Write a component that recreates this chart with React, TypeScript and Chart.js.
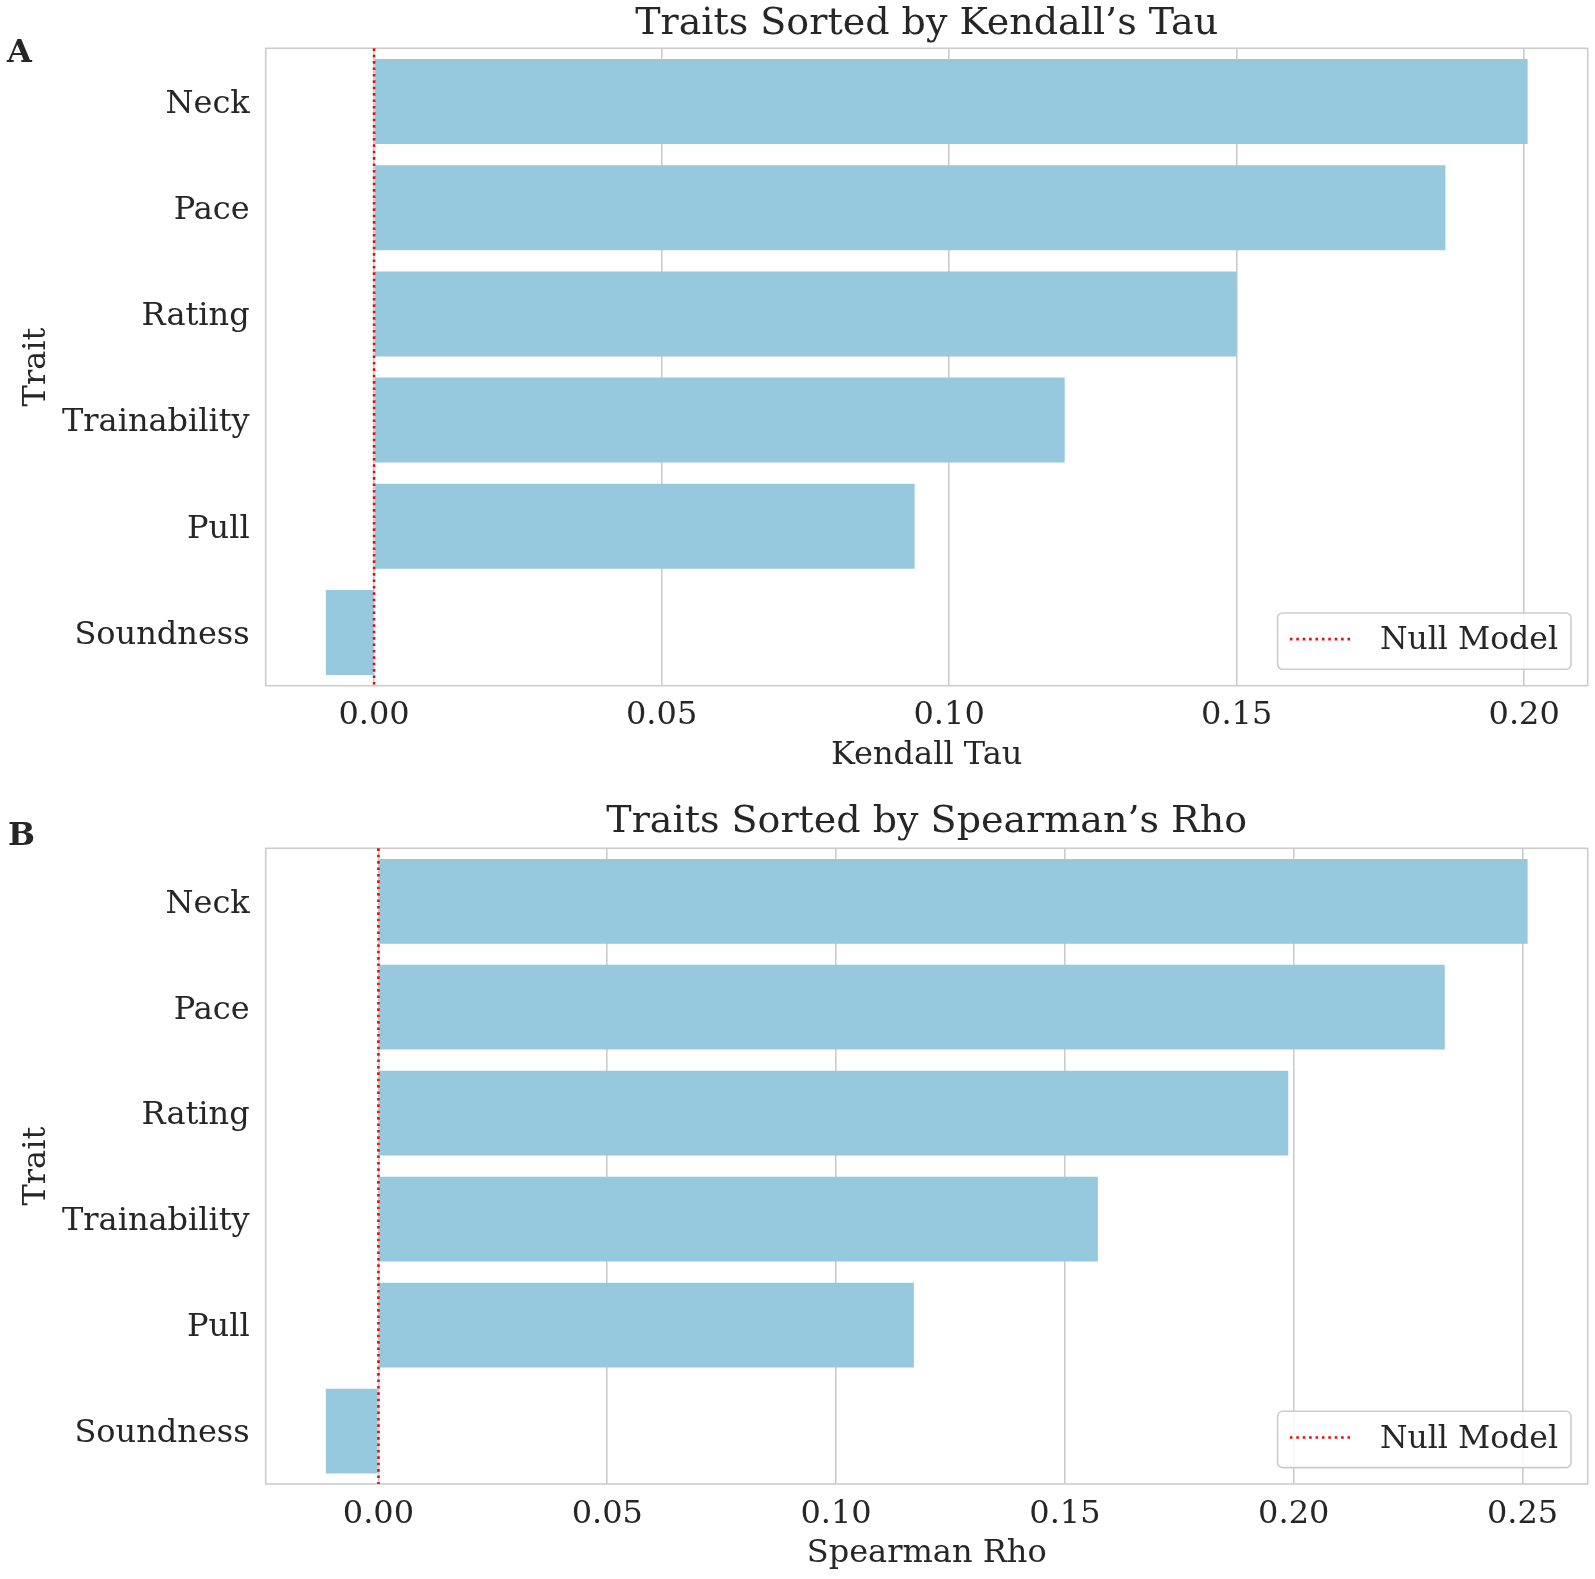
import React, { useEffect, useRef } from 'react';
import { Chart, registerables } from 'chart.js';

Chart.register(...registerables);

// ---------------- data ----------------
const traits = ['Neck', 'Pace', 'Rating', 'Trainability', 'Pull', 'Soundness'];
const kendallTau = [0.2006, 0.1863, 0.15, 0.1201, 0.094, -0.0084];
const spearmanRho = [0.2511, 0.233, 0.1988, 0.1572, 0.117, -0.0115];
const kendallTicks = [0, 0.05, 0.1, 0.15, 0.2];
const spearmanTicks = [0, 0.05, 0.1, 0.15, 0.2, 0.25];
const nullModelValue = 0;
const nullModelLabel = 'Null Model';
const panelLabels = ['A', 'B'];
const chartTitles = ['Traits Sorted by Kendall\u2019s Tau', 'Traits Sorted by Spearman\u2019s Rho'];
const xAxisTitles = ['Kendall Tau', 'Spearman Rho'];
const yAxisTitle = 'Trait';

// ---------------- style ----------------
const FONT = "'DejaVu Serif', serif";
const TEXT = '#262626';
const GRID = '#cccccc';
const BAR = '#96c8de';
const NULL_COLOR = '#e01010';
const FS = 32;
const LEG_FS = 31.5;
const TITLE_FS = 38;

type Lay = {
  canvasH: number;
  titlePadTop: number;
  titlePadBottom: number;
  xAxisH: number;
  tickPad: number;
  xTitlePadBottom: number;
  panelX: number;
  panelBaseline: number;
};

function makeChart(
  canvas: HTMLCanvasElement,
  values: number[],
  ticks: number[],
  title: string,
  xTitle: string,
  panel: string,
  lay: Lay
) {
  const lo = Math.min(0, ...values);
  const hi = Math.max(0, ...values);
  const m = (hi - lo) * 0.05;

  const framePlugin = {
    id: 'frame',
    beforeDatasetsDraw(chart: any) {
      const { ctx, chartArea: a } = chart;
      ctx.save();
      ctx.strokeStyle = GRID;
      ctx.lineWidth = 1.6;
      ctx.strokeRect(a.left, a.top, a.right - a.left, a.bottom - a.top);
      ctx.restore();
    },
  };

  const nullPlugin = {
    id: 'nullModel',
    afterDatasetsDraw(chart: any) {
      const { ctx, chartArea: a } = chart;
      const x = chart.scales.x.getPixelForValue(nullModelValue);
      ctx.save();
      ctx.strokeStyle = NULL_COLOR;
      ctx.lineWidth = 2.6;
      ctx.setLineDash([2.6, 3.8]);
      ctx.beginPath();
      ctx.moveTo(x, a.top);
      ctx.lineTo(x, a.bottom);
      ctx.stroke();
      ctx.restore();
    },
    afterDraw(chart: any) {
      const { ctx, chartArea: a } = chart;
      ctx.save();
      ctx.font = `${LEG_FS}px ${FONT}`;
      const tw = ctx.measureText(nullModelLabel).width;
      const w = 102.3 + tw + 13;
      const h = 56.3;
      const right = a.right - 16.7;
      const bottom = a.bottom - 16.4;
      const left = right - w;
      const top = bottom - h;
      ctx.beginPath();
      (ctx as any).roundRect(left, top, w, h, 5);
      ctx.fillStyle = 'rgba(255,255,255,0.85)';
      ctx.fill();
      ctx.strokeStyle = GRID;
      ctx.lineWidth = 1.6;
      ctx.stroke();
      const cy = top + h / 2;
      ctx.strokeStyle = NULL_COLOR;
      ctx.lineWidth = 2.6;
      ctx.setLineDash([2.6, 3.8]);
      ctx.beginPath();
      ctx.moveTo(left + 12.3, cy - 2);
      ctx.lineTo(left + 76.3, cy - 2);
      ctx.stroke();
      ctx.setLineDash([]);
      ctx.fillStyle = TEXT;
      ctx.textBaseline = 'middle';
      ctx.textAlign = 'left';
      ctx.fillText(nullModelLabel, left + 102.3, cy);
      // panel letter
      ctx.font = `bold 32px ${FONT}`;
      ctx.textBaseline = 'alphabetic';
      ctx.fillText(panel, lay.panelX, lay.panelBaseline);
      ctx.restore();
    },
  };

  return new Chart(canvas, {
    type: 'bar',
    data: {
      labels: traits,
      datasets: [
        {
          data: values,
          backgroundColor: BAR,
          borderWidth: 0,
          barPercentage: 0.8,
          categoryPercentage: 1,
        },
      ],
    },
    options: {
      indexAxis: 'y',
      animation: false,
      responsive: false,
      devicePixelRatio: 1,
      layout: { padding: { top: 0, left: 0, right: 7.3, bottom: 0 } },
      plugins: {
        legend: { display: false },
        tooltip: { enabled: false },
        title: {
          display: true,
          text: title,
          fullSize: false,
          color: TEXT,
          font: { family: FONT, size: TITLE_FS, weight: 'normal', lineHeight: 1.2 },
          padding: { top: lay.titlePadTop, bottom: lay.titlePadBottom },
        },
      },
      scales: {
        x: {
          type: 'linear',
          min: lo - m,
          max: hi + m,
          grid: { color: GRID, lineWidth: 1.6, drawTicks: false },
          border: { display: false },
          ticks: {
            padding: lay.tickPad,
            color: TEXT,
            font: { family: FONT, size: FS, lineHeight: 1.2 },
            autoSkip: false,
            maxRotation: 0,
            callback: (v: any) => Number(v).toFixed(2),
          },
          title: {
            display: true,
            text: xTitle,
            color: TEXT,
            font: { family: FONT, size: FS, lineHeight: 1.2 },
            padding: { top: 0, bottom: lay.xTitlePadBottom },
          },
          afterBuildTicks: (s: any) => {
            s.ticks = ticks.map((v) => ({ value: v }));
          },
          afterFit: (s: any) => {
            s.height = lay.xAxisH;
          },
        },
        y: {
          type: 'category',
          grid: { display: false, drawTicks: false },
          border: { display: false },
          ticks: {
            padding: 16,
            labelOffset: 3,
            color: TEXT,
            autoSkip: false,
            font: { family: FONT, size: FS, lineHeight: 1.2 },
          },
          title: {
            display: true,
            text: yAxisTitle,
            color: TEXT,
            font: { family: FONT, size: FS, lineHeight: 1.2 },
            padding: { top: 17.5, bottom: 0 },
          },
          afterFit: (s: any) => {
            s.width = 265.7;
          },
        },
      },
    } as any,
    plugins: [framePlugin, nullPlugin],
  });
}

const lay1: Lay = {
  canvasH: 790,
  titlePadTop: 1.4,
  titlePadBottom: 1.3,
  xAxisH: 104.3,
  tickPad: 11.1,
  xTitlePadBottom: 14.8,
  panelX: 7,
  panelBaseline: 61.7,
};
const lay2: Lay = {
  canvasH: 789,
  titlePadTop: 9.7,
  titlePadBottom: 3.0,
  xAxisH: 95,
  tickPad: 11.8,
  xTitlePadBottom: 5.8,
  panelX: 8,
  panelBaseline: 55,
};

export default function App() {
  const c1 = useRef<HTMLCanvasElement>(null);
  const c2 = useRef<HTMLCanvasElement>(null);

  useEffect(() => {
    const a = makeChart(c1.current!, kendallTau, kendallTicks, chartTitles[0], xAxisTitles[0], panelLabels[0], lay1);
    const b = makeChart(c2.current!, spearmanRho, spearmanTicks, chartTitles[1], xAxisTitles[1], panelLabels[1], lay2);
    return () => {
      a.destroy();
      b.destroy();
    };
  }, []);

  return (
    <div style={{ position: 'absolute', left: 0, top: 0, width: 1595, height: 1579, background: '#ffffff' }}>
      <canvas
        ref={c1}
        width={1595}
        height={lay1.canvasH}
        style={{ position: 'absolute', left: 0, top: 0, width: 1595, height: lay1.canvasH }}
      />
      <canvas
        ref={c2}
        width={1595}
        height={lay2.canvasH}
        style={{ position: 'absolute', left: 0, top: lay1.canvasH, width: 1595, height: lay2.canvasH }}
      />
    </div>
  );
}
